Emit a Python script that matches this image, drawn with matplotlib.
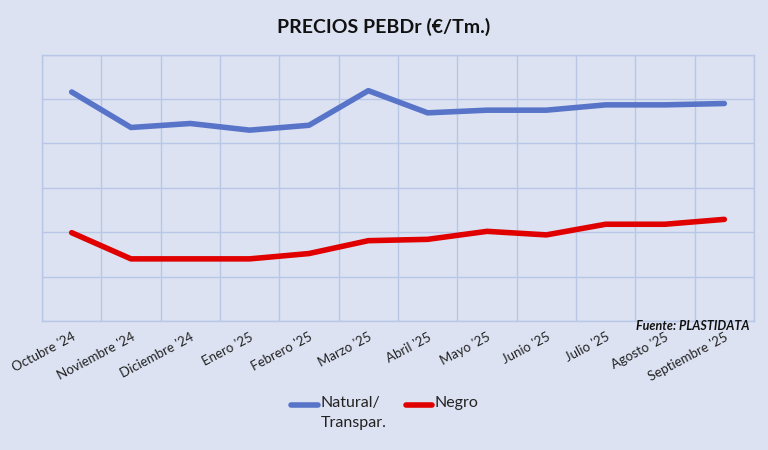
import matplotlib
matplotlib.use("Agg")
import matplotlib.pyplot as plt
from matplotlib.lines import Line2D
import numpy as np

months = ["Octubre '24", "Noviembre '24", "Diciembre '24", "Enero '25", "Febrero '25",
          "Marzo '25", "Abril '25", "Mayo '25", "Junio '25", "Julio '25",
          "Agosto '25", "Septiembre '25"]
natural = [1316, 1236, 1245, 1230, 1241, 1319, 1269, 1275, 1275, 1287, 1287, 1290]
negro = [999, 940, 940, 940, 952, 981, 984, 1002, 994, 1018, 1018, 1029]
series_names = ["Natural/\nTranspar.", "Negro"]
colors = ["#5874C8", "#E00000"]

bg = "#DCE2F2"
grid_c = "#B8C7E6"
plt.rcParams['font.family'] = ['Lato', 'DejaVu Sans']

fig = plt.figure(figsize=(7.68, 4.5), dpi=100, facecolor=bg)
ax = fig.add_axes([42/768, 1-321/450, (754-42)/768, (321-54.7)/450])
ax.set_facecolor(bg)

x = np.arange(len(months))
ax.plot(x, natural, color=colors[0], lw=4, solid_capstyle='round')
ax.plot(x, negro, color=colors[1], lw=4, solid_capstyle='round')

ax.set_xlim(-0.5, len(months)-0.5)
ax.set_ylim(800, 1400)
ax.set_yticks(np.arange(800, 1401, 100))
ax.set_xticks(np.arange(-0.5, len(months), 1), minor=False)
ax.set_xticklabels([])
ax.set_xticks(x, minor=True)
ax.set_xticklabels(months, minor=True, rotation=28, ha='right', va='top',
                   rotation_mode='anchor', fontsize=9.5, color="#222222")
ax.tick_params(axis='x', which='both', length=0, pad=7)
ax.tick_params(axis='y', length=0, labelleft=False)
ax.grid(True, which='major', color=grid_c, lw=1)
for s in ax.spines.values():
    s.set_color(grid_c)
    s.set_linewidth(1)

fig.text(0.5, 1-27/450, "PRECIOS PEBDr (€/Tm.)", ha='center', va='center',
         fontsize=14, fontweight='bold', color="#111111")
fig.text(749/768, 1-326/450, "Fuente: PLASTIDATA", ha='right', va='center',
         fontsize=9, fontweight='bold', fontstyle='italic', color="#111111")

# manual legend
leg_items = [(291, 318, 321), (406, 432, 435)]
for (x0, x1, xt), name, c in zip(leg_items, series_names, colors):
    fig.add_artist(Line2D([x0/768, x1/768], [1-405/450, 1-405/450], color=c, lw=4,
                          solid_capstyle='round', transform=fig.transFigure))
    fig.text(xt/768, 1-396/450, name, ha='left', va='top', fontsize=11.5,
             color="#222222", linespacing=1.5)

fig.savefig("out.png", dpi=100, facecolor=bg)
